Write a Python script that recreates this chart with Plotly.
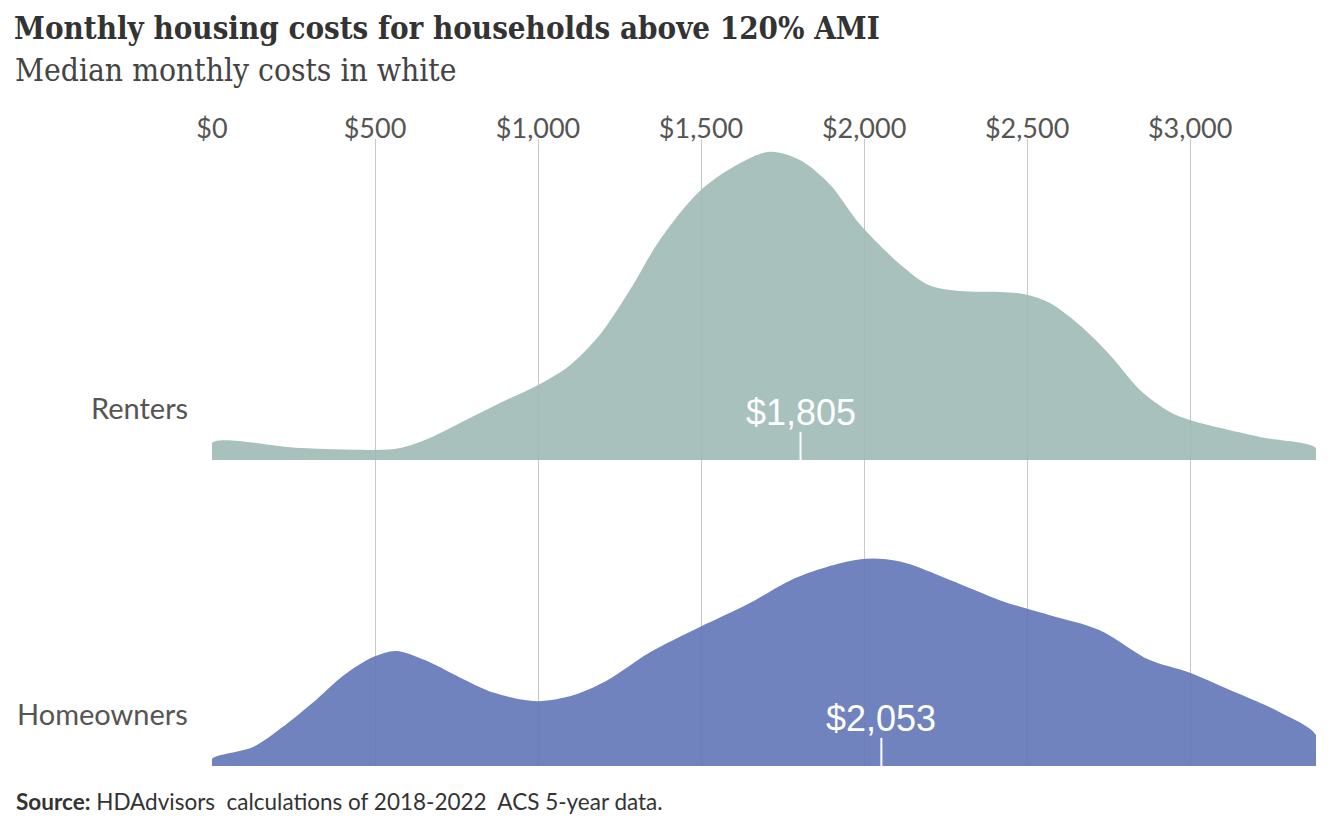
import plotly.graph_objects as go

# monthly cost ($) and relative density
renters_cost = [0, 270, 500, 577, 668, 791, 883, 1000, 1098, 1190, 1282, 1374, 1497,
                1619, 1711, 1803, 1895, 1987, 2110, 2202, 2294, 2416, 2493, 2570,
                2662, 2754, 2846, 2938, 2999, 3091, 3214, 3386]
renters_density = [0.056, 0.039, 0.033, 0.039, 0.072, 0.137, 0.186, 0.245, 0.31, 0.41,
                   0.556, 0.72, 0.88, 0.97, 1.007, 0.98, 0.90, 0.77, 0.64, 0.57, 0.552,
                   0.549, 0.542, 0.513, 0.44, 0.343, 0.229, 0.157, 0.131, 0.105, 0.075,
                   0.039]

owners_cost = [0, 126, 212, 319, 405, 494, 564, 653, 757, 865, 997, 1110, 1214, 1340,
               1496, 1638, 1797, 1990, 2110, 2263, 2416, 2493, 2570, 2723, 2876, 2993,
               3122, 3275, 3386]
owners_density = [0.023, 0.062, 0.124, 0.216, 0.297, 0.356, 0.376, 0.346, 0.291, 0.239,
                  0.212, 0.232, 0.281, 0.369, 0.454, 0.526, 0.618, 0.676, 0.668, 0.608,
                  0.542, 0.516, 0.493, 0.444, 0.346, 0.307, 0.248, 0.176, 0.101]

groups = ["Renters", "Homeowners"]
medians = [1805, 2053]
tick_vals = [0, 500, 1000, 1500, 2000, 2500, 3000]
tick_text = ["$0", "$500", "$1,000", "$1,500", "$2,000", "$2,500", "$3,000"]

x_max = 3386
colors = ["rgba(158,186,182,0.9)", "rgba(98,118,183,0.9)"]
curves = [(renters_cost, renters_density), (owners_cost, owners_density)]
offsets = [1, 0]

fig = go.Figure()

for (xs, ds), base, col in zip(curves, offsets, colors):
    fig.add_trace(go.Scatter(
        x=[xs[0]] + xs + [xs[-1]],
        y=[base] + [base + d for d in ds] + [base],
        mode="lines",
        line=dict(width=0, shape="spline", smoothing=0.9),
        fill="toself",
        fillcolor=col,
        hoverinfo="skip",
        showlegend=False,
    ))

# median ticks and labels
for med, base, name in zip(medians, offsets, groups):
    fig.add_shape(type="line", x0=med, x1=med, y0=base, y1=base + 0.092,
                  line=dict(color="white", width=2))
    fig.add_annotation(x=med, y=base + 0.092, text="${:,}".format(med),
                       showarrow=False, yanchor="bottom", yshift=-3,
                       font=dict(family="Liberation Sans", size=36, color="white"))
    fig.add_annotation(x=0, y=base + 0.17, xref="x", text=name, showarrow=False,
                       xanchor="right", xshift=-22,
                       font=dict(family="Lato", size=29, color="#555555"))

fig.update_layout(
    width=1344, height=830,
    margin=dict(l=204, r=36, t=131, b=72),
    plot_bgcolor="white",
    paper_bgcolor="white",
    title=dict(
        text="Monthly housing costs for households above 120% AMI",
        x=0.0045, xanchor="left", y=0.976, yanchor="middle",
        font=dict(family="DejaVu Serif Condensed", size=31, color="#333333", weight="bold"),
    ),
)

fig.add_annotation(xref="paper", yref="paper", x=-0.1805, y=1.11, xanchor="left",
                   yanchor="middle", text="Median monthly costs in white", showarrow=False,
                   font=dict(family="DejaVu Serif Condensed", size=31.5, color="#444444"))
fig.add_annotation(xref="paper", yref="paper", x=-0.1795, y=-0.0574, xanchor="left",
                   yanchor="middle",
                   text="<b>Source:</b> HDAdvisors  calculations of 2018-2022  ACS 5-year data.",
                   showarrow=False, font=dict(family="Lato", size=22.5, color="#333333"))

fig.update_xaxes(range=[0, x_max], side="top", tickvals=tick_vals, ticktext=tick_text,
                 showgrid=True, gridcolor="#c8c8c8", gridwidth=1, zeroline=False,
                 showline=False, ticks="", ticklabelstandoff=-5,
                 tickfont=dict(family="Lato", size=27, color="#555555"))
fig.update_yaxes(range=[0, 2.049], showgrid=False, zeroline=False, showticklabels=False,
                 showline=False)

fig.write_html("out.html")
